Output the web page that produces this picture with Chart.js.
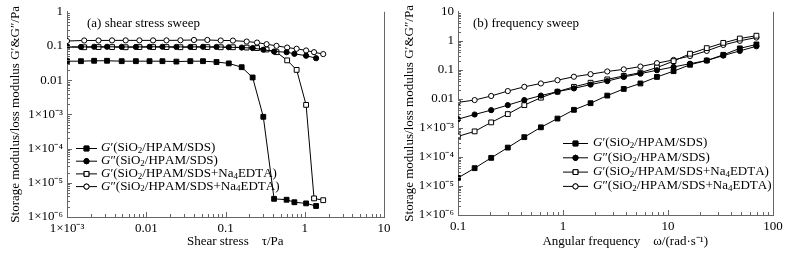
<!DOCTYPE html>
<html>
<head>
<meta charset="utf-8">
<script src="https://cdn.jsdelivr.net/npm/chart.js@4.4.0/dist/chart.umd.min.js"></script>
<style>
body { margin: 0; background: #fff; }
#wrap { position: relative; width: 799px; height: 256px; }
#c1 { position: absolute; left: 0; top: 0; }
#c2 { position: absolute; left: 400px; top: 0; }
</style>
</head>
<body>
<div id="wrap">
<canvas id="c1" width="400" height="256"></canvas>
<canvas id="c2" width="399" height="256"></canvas>
</div>
<script>
// names of the four series (same in both panels)
const seriesNames = [
    "G′(SiO₂/HPAM/SDS)",
    "G″(SiO₂/HPAM/SDS)",
    "G′(SiO₂/HPAM/SDS+Na₄EDTA)",
    "G″(SiO₂/HPAM/SDS+Na₄EDTA)"
];

// (a) shear stress sweep, tau / Pa
const stressSDS = [0.001, 0.0015, 0.0022, 0.0032, 0.0049, 0.0074, 0.011, 0.016, 0.024, 0.036, 0.052,
    0.077, 0.11, 0.16, 0.22, 0.30, 0.41, 0.59, 0.74, 1.04, 1.39];
const stressGp1 = [0.036, 0.036, 0.037, 0.037, 0.036, 0.036, 0.036, 0.036, 0.035, 0.036, 0.036,
    0.034, 0.031, 0.024, 0.012, 0.00085, 3.4e-6, 3.2e-6, 2.7e-6, 2.5e-6, 2.1e-6];
const stressGpp1 = [0.095, 0.094, 0.095, 0.095, 0.094, 0.094, 0.095, 0.095, 0.094, 0.094, 0.095,
    0.094, 0.092, 0.09, 0.087, 0.078, 0.069, 0.066, 0.059, 0.052, 0.044];
const stressEDTA = [0.001, 0.00165, 0.0025, 0.0037, 0.0055, 0.0082, 0.0122, 0.018, 0.027, 0.04, 0.059,
    0.087, 0.124, 0.185, 0.25, 0.33, 0.44, 0.6, 0.79, 1.04, 1.31, 1.71];
const stressGp2 = [0.093, 0.092, 0.093, 0.093, 0.092, 0.093, 0.093, 0.093, 0.092, 0.093, 0.093,
    0.092, 0.092, 0.09, 0.087, 0.079, 0.066, 0.038, 0.020, 0.0019, 3.5e-6, 3.1e-6];
const stressGpp2 = [0.14, 0.145, 0.145, 0.146, 0.146, 0.146, 0.146, 0.146, 0.147, 0.15, 0.15,
    0.145, 0.144, 0.135, 0.126, 0.113, 0.101, 0.09, 0.083, 0.074, 0.066, 0.058];

// (b) frequency sweep, omega / (rad/s)
const freq = [0.1, 0.144, 0.207, 0.298, 0.428, 0.616, 0.886, 1.27, 1.83, 2.64, 3.79, 5.46, 7.85,
    11.3, 16.2, 23.4, 33.6, 48.3, 69.5];
const freqGp1 = [1.9e-5, 4.1e-5, 9.3e-5, 2.1e-4, 4.8e-4, 1.05e-3, 2.1e-3, 4.2e-3, 7.1e-3, 0.013,
    0.022, 0.034, 0.057, 0.09, 0.15, 0.21, 0.33, 0.55, 0.75];
const freqGpp1 = [2.0e-3, 2.9e-3, 4.1e-3, 6.1e-3, 9.1e-3, 0.013, 0.0177, 0.023, 0.031, 0.041,
    0.057, 0.074, 0.097, 0.126, 0.163, 0.21, 0.31, 0.45, 0.65];
const freqGp2 = [5.1e-4, 7.6e-4, 1.55e-3, 3.0e-3, 6.1e-3, 0.011, 0.0177, 0.026, 0.036, 0.047,
    0.062, 0.08, 0.12, 0.2, 0.36, 0.56, 0.85, 1.2, 1.5];
const freqGpp2 = [0.0076, 0.0091, 0.0126, 0.0186, 0.026, 0.034, 0.044, 0.058, 0.071, 0.088,
    0.104, 0.13, 0.17, 0.22, 0.3, 0.45, 0.72, 1.0, 1.3];

// tick values and labels
const stressTicks = [1e-3, 0.01, 0.1, 1, 10];
const stressTickLabels = ["1×10⁻³", "0.01", "0.1", "1", "10"];
const stressYTicks = [1e-6, 1e-5, 1e-4, 1e-3, 0.01, 0.1, 1];
const stressYTickLabels = ["1×10⁻⁶", "1×10⁻⁵", "1×10⁻⁴", "1×10⁻³", "0.01", "0.1", "1"];
const freqTicks = [0.1, 1, 10, 100];
const freqTickLabels = ["0.1", "1", "10", "100"];
const freqYTicks = [1e-6, 1e-5, 1e-4, 1e-3, 0.01, 0.1, 1, 10];
const freqYTickLabels = ["1×10⁻⁶", "1×10⁻⁵", "1×10⁻⁴", "1×10⁻³", "0.01", "0.1", "1", "10"];

const SERIF = '"Liberation Serif", "Times New Roman", serif';
Chart.defaults.font.family = SERIF;
Chart.defaults.color = '#000';

const markers = [
    { style: 'rect', fill: '#000' },
    { style: 'circle', fill: '#000' },
    { style: 'rect', fill: '#fff' },
    { style: 'circle', fill: '#fff' }
];

function makeSeries(xs, ys, i) {
    let m = markers[i];
    return {
        label: seriesNames[i],
        data: xs.map((x, k) => ({ x: x, y: ys[k] })),
        showLine: true,
        borderColor: '#000',
        borderWidth: 1,
        pointStyle: m.style,
        pointRadius: m.style === 'rect' ? 3.4 : 2.6,
        pointBackgroundColor: m.fill,
        pointBorderColor: '#000',
        pointBorderWidth: 1
    };
}

// text with italic G and subscript digits
function drawRich(ctx, str, x, y, size) {
    let cx = x;
    for (const ch of str) {
        let font = size + 'px ' + SERIF;
        let dy = 0;
        let t = ch;
        if (ch === 'G') font = 'italic ' + font;
        if (ch === '₂' || ch === '₄') {
            t = ch === '₂' ? '2' : '4';
            font = Math.round(size * 0.7) + 'px ' + SERIF;
            dy = 3;
        }
        ctx.font = font;
        ctx.fillText(t, cx, y + dy);
        cx += ctx.measureText(t).width;
    }
}

// inward ticks, right frame line, panel label and legend
const panelPlugin = {
    id: 'panel',
    afterDraw(chart, args, opts) {
        const ctx = chart.ctx;
        const area = chart.chartArea;
        const xs = chart.scales.x, ys = chart.scales.y;
        ctx.save();
        ctx.strokeStyle = '#666';
        ctx.lineWidth = 1;
        ctx.beginPath();
        ctx.moveTo(area.right + 0.5, area.top);
        ctx.lineTo(area.right + 0.5, area.bottom);
        for (let d = Math.log10(xs.min); d < Math.log10(xs.max); d++) {
            for (let m = 1; m <= 9; m++) {
                let px = Math.round(xs.getPixelForValue(m * Math.pow(10, d))) + 0.5;
                let len = m === 1 ? 5 : 3;
                ctx.moveTo(px, area.bottom);
                ctx.lineTo(px, area.bottom - len);
            }
        }
        for (let d = Math.round(Math.log10(ys.min)); d < Math.round(Math.log10(ys.max)); d++) {
            for (let m = 1; m <= 9; m++) {
                let py = Math.round(ys.getPixelForValue(m * Math.pow(10, d))) + 0.5;
                let len = m === 1 ? 5 : 3;
                ctx.moveTo(area.left, py);
                ctx.lineTo(area.left + len, py);
            }
        }
        ctx.stroke();

        ctx.fillStyle = '#000';
        ctx.textBaseline = 'middle';
        ctx.textAlign = 'left';
        ctx.font = '13px ' + SERIF;
        ctx.fillText(opts.label, opts.labelX, opts.labelY);

        const lg = opts.legend;
        chart.data.datasets.forEach((ds, i) => {
            let y = lg.y + i * lg.dy;
            ctx.strokeStyle = '#000';
            ctx.beginPath();
            ctx.moveTo(lg.x0, y + 0.5);
            ctx.lineTo(lg.x1, y + 0.5);
            ctx.stroke();
            Chart.helpers.drawPoint(ctx, {
                pointStyle: ds.pointStyle, radius: ds.pointRadius, borderWidth: 1
            }, (lg.x0 + lg.x1) / 2, y + 0.5);
            ctx.fillStyle = ds.pointBackgroundColor;
            ctx.fill();
            ctx.stroke();
            ctx.fillStyle = '#000';
            drawRich(ctx, ds.label, lg.tx, y, 13);
        });
        ctx.restore();
    }
};

function makeChart(id, cfg) {
    return new Chart(document.getElementById(id), {
        type: 'scatter',
        data: { datasets: cfg.datasets },
        options: {
            responsive: false,
            animation: false,
            devicePixelRatio: 1,
            layout: { padding: cfg.padding },
            plugins: {
                legend: { display: false },
                tooltip: { enabled: false },
                panel: cfg.panel
            },
            scales: {
                x: {
                    type: 'logarithmic',
                    min: cfg.xTicks[0],
                    max: cfg.xTicks[cfg.xTicks.length - 1],
                    grid: { display: false, drawTicks: false },
                    border: { display: true, color: '#666' },
                    afterBuildTicks: s => { s.ticks = cfg.xTicks.map(v => ({ value: v })); },
                    afterFit: s => { s.height = cfg.xAxisHeight; },
                    ticks: {
                        autoSkip: false, maxRotation: 0, padding: 4,
                        font: { size: 13 },
                        callback: (v, i) => cfg.xLabels[i]
                    },
                    title: {
                        display: true, text: cfg.xTitle,
                        font: { size: 13 }, padding: { top: 0, bottom: 7 }
                    }
                },
                y: {
                    type: 'logarithmic',
                    min: cfg.yTicks[0],
                    max: cfg.yTicks[cfg.yTicks.length - 1],
                    grid: { display: false, drawTicks: false },
                    border: { display: true, color: '#666' },
                    afterBuildTicks: s => { s.ticks = cfg.yTicks.map(v => ({ value: v })); },
                    afterFit: s => { s.width = cfg.yAxisWidth; },
                    ticks: {
                        autoSkip: false, padding: 4,
                        font: { size: 13 },
                        callback: (v, i) => cfg.yLabels[i]
                    },
                    title: {
                        display: true, text: 'Storage modulus/loss modulus G′&G″/Pa',
                        font: { size: 13 }, padding: { top: cfg.yTitlePad, bottom: 0 }
                    }
                }
            }
        },
        plugins: [panelPlugin]
    });
}

makeChart('c1', {
    datasets: [
        makeSeries(stressSDS, stressGp1, 0),
        makeSeries(stressSDS, stressGpp1, 1),
        makeSeries(stressEDTA, stressGp2, 2),
        makeSeries(stressEDTA, stressGpp2, 3)
    ],
    padding: { left: 0, right: 16, top: 10, bottom: 0 },
    xAxisHeight: 39, yAxisWidth: 67, yTitlePad: 8,
    xTicks: stressTicks, xLabels: stressTickLabels,
    yTicks: stressYTicks, yLabels: stressYTickLabels,
    xTitle: '\u00a0\u00a0\u00a0\u00a0\u00a0\u00a0Shear stress    τ/Pa',
    panel: {
        label: '(a) shear stress sweep', labelX: 87, labelY: 24,
        legend: { x0: 76, x1: 97, tx: 101, y: 148, dy: 12.7 }
    }
});

makeChart('c2', {
    datasets: [
        makeSeries(freq, freqGp1, 0),
        makeSeries(freq, freqGpp1, 1),
        makeSeries(freq, freqGp2, 2),
        makeSeries(freq, freqGpp2, 3)
    ],
    padding: { left: 0, right: 26, top: 9, bottom: 0 },
    xAxisHeight: 41, yAxisWidth: 58, yTitlePad: 2,
    xTicks: freqTicks, xLabels: freqTickLabels,
    yTicks: freqYTicks, yLabels: freqYTickLabels,
    xTitle: '\u00a0\u00a0\u00a0\u00a0\u00a0\u00a0Angular frequency    ω/(rad·s⁻¹)',
    panel: {
        label: '(b) frequency sweep', labelX: 73, labelY: 24,
        legend: { x0: 163, x1: 188, tx: 193, y: 143, dy: 14.3 }
    }
});
</script>
</body>
</html>
